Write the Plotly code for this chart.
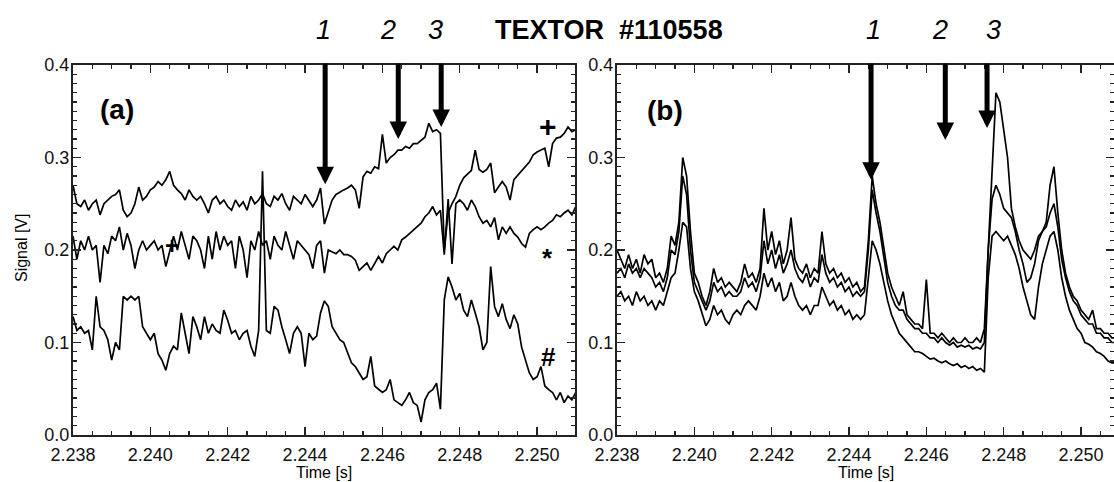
import numpy as np
import plotly.graph_objects as go

# ---------------- data ----------------
# sample times (ms after 2.238 s)
time_a_ms = np.round(np.arange(0, 13.05, 0.1), 1)
time_b_ms = np.round(np.arange(0, 12.95, 0.1), 1)
T0 = 2.238

# panel (a): three signals, marked '+', '*', '#'
sig_plus = [
    0.270, 0.250, 0.247, 0.254, 0.243, 0.250, 0.254, 0.238, 0.250, 0.254,
    0.258, 0.260, 0.265, 0.243, 0.236, 0.240, 0.250, 0.268, 0.254, 0.258,
    0.265, 0.268, 0.274, 0.270, 0.276, 0.285, 0.270, 0.265, 0.261, 0.254,
    0.265, 0.258, 0.254, 0.258, 0.250, 0.240, 0.254, 0.258, 0.250, 0.254,
    0.247, 0.243, 0.254, 0.247, 0.252, 0.243, 0.258, 0.250, 0.254, 0.261,
    0.250, 0.247, 0.258, 0.254, 0.261, 0.250, 0.243, 0.258, 0.254, 0.250,
    0.260, 0.254, 0.247, 0.254, 0.267, 0.228, 0.240, 0.254, 0.260, 0.263,
    0.265, 0.267, 0.270, 0.265, 0.245, 0.279, 0.285, 0.283, 0.290, 0.288,
    0.325, 0.294, 0.300, 0.303, 0.308, 0.308, 0.312, 0.310, 0.315, 0.315,
    0.319, 0.322, 0.337, 0.328, 0.330, 0.326, 0.200, 0.240, 0.250, 0.258,
    0.270, 0.278, 0.282, 0.286, 0.308, 0.287, 0.284, 0.287, 0.294, 0.262,
    0.268, 0.274, 0.268, 0.254, 0.276, 0.281, 0.285, 0.290, 0.295, 0.303,
    0.306, 0.308, 0.310, 0.290, 0.315, 0.321, 0.322, 0.326, 0.333, 0.328,
    0.330,
]
sig_star = [
    0.215, 0.190, 0.210, 0.200, 0.215, 0.200, 0.205, 0.165, 0.205, 0.196,
    0.215, 0.210, 0.225, 0.200, 0.218, 0.205, 0.180, 0.200, 0.210, 0.200,
    0.205, 0.210, 0.200, 0.205, 0.182, 0.200, 0.215, 0.200, 0.220, 0.205,
    0.190, 0.215, 0.210, 0.200, 0.180, 0.215, 0.190, 0.220, 0.200, 0.215,
    0.205, 0.210, 0.180, 0.215, 0.200, 0.170, 0.210, 0.200, 0.220, 0.205,
    0.210, 0.190, 0.215, 0.205, 0.200, 0.220, 0.205, 0.190, 0.210, 0.205,
    0.200, 0.195, 0.180, 0.205, 0.210, 0.175, 0.200, 0.198, 0.196, 0.200,
    0.195, 0.195, 0.193, 0.189, 0.178, 0.182, 0.186, 0.178, 0.186, 0.193,
    0.186, 0.196, 0.200, 0.204, 0.200, 0.211, 0.214, 0.218, 0.222, 0.225,
    0.229, 0.236, 0.240, 0.247, 0.238, 0.243, 0.195, 0.255, 0.185, 0.250,
    0.254, 0.250, 0.243, 0.254, 0.247, 0.236, 0.229, 0.232, 0.225, 0.235,
    0.211, 0.225, 0.218, 0.225, 0.218, 0.214, 0.207, 0.203, 0.218, 0.222,
    0.225, 0.222, 0.225, 0.229, 0.232, 0.238, 0.236, 0.240, 0.243, 0.238,
    0.247,
]
sig_hash = [
    0.128, 0.113, 0.117, 0.110, 0.113, 0.092, 0.150, 0.117, 0.113, 0.103,
    0.081, 0.100, 0.092, 0.150, 0.146, 0.150, 0.146, 0.150, 0.117, 0.110,
    0.103, 0.110, 0.088, 0.081, 0.070, 0.088, 0.096, 0.092, 0.132, 0.110,
    0.088, 0.128, 0.117, 0.103, 0.128, 0.110, 0.120, 0.113, 0.110, 0.135,
    0.124, 0.110, 0.113, 0.103, 0.110, 0.113, 0.096, 0.085, 0.113, 0.285,
    0.113, 0.110, 0.139, 0.135, 0.117, 0.103, 0.088, 0.110, 0.117, 0.110,
    0.074, 0.110, 0.103, 0.107, 0.132, 0.145, 0.139, 0.117, 0.110, 0.103,
    0.100, 0.088, 0.078, 0.074, 0.067, 0.060, 0.063, 0.085, 0.053, 0.049,
    0.046, 0.049, 0.060, 0.038, 0.035, 0.032, 0.038, 0.046, 0.035, 0.032,
    0.014, 0.038, 0.046, 0.049, 0.056, 0.028, 0.146, 0.171, 0.160, 0.146,
    0.153, 0.135, 0.128, 0.146, 0.132, 0.117, 0.092, 0.100, 0.182, 0.139,
    0.128, 0.142, 0.125, 0.115, 0.130, 0.120, 0.095, 0.080, 0.067, 0.060,
    0.063, 0.074, 0.053, 0.049, 0.046, 0.038, 0.046, 0.035, 0.042, 0.038,
    0.046,
]

# panel (b): three signals
sig_b1 = [
    0.200, 0.190, 0.180, 0.195, 0.180, 0.190, 0.175, 0.195, 0.185, 0.190,
    0.170, 0.175, 0.165, 0.180, 0.215, 0.205, 0.230, 0.300, 0.280, 0.220,
    0.175, 0.165, 0.150, 0.140, 0.155, 0.180, 0.165, 0.170, 0.160, 0.165,
    0.160, 0.155, 0.165, 0.185, 0.170, 0.175, 0.165, 0.180, 0.245, 0.200,
    0.220, 0.195, 0.210, 0.185, 0.200, 0.235, 0.190, 0.180, 0.175, 0.185,
    0.170, 0.180, 0.175, 0.220, 0.185, 0.175, 0.180, 0.170, 0.175, 0.165,
    0.170, 0.160, 0.165, 0.155, 0.160, 0.210, 0.280, 0.250, 0.230, 0.200,
    0.175, 0.160, 0.150, 0.140, 0.155, 0.130, 0.125, 0.120, 0.120, 0.115,
    0.168, 0.110, 0.110, 0.105, 0.110, 0.105, 0.100, 0.105, 0.100, 0.100,
    0.105, 0.100, 0.100, 0.105, 0.100, 0.115, 0.200, 0.280, 0.370, 0.360,
    0.330, 0.300, 0.245, 0.225, 0.210, 0.200, 0.195, 0.190, 0.200, 0.215,
    0.220, 0.230, 0.270, 0.290, 0.240, 0.200, 0.175, 0.160, 0.150, 0.145,
    0.135, 0.130, 0.125, 0.135, 0.115, 0.115, 0.110, 0.110, 0.105, 0.105,
]
sig_b2 = [
    0.175, 0.180, 0.170, 0.185, 0.175, 0.180, 0.170, 0.180, 0.175, 0.170,
    0.160, 0.165, 0.155, 0.170, 0.200, 0.195, 0.220, 0.280, 0.260, 0.200,
    0.165, 0.155, 0.145, 0.135, 0.145, 0.165, 0.155, 0.160, 0.150, 0.155,
    0.150, 0.150, 0.155, 0.170, 0.160, 0.165, 0.155, 0.170, 0.210, 0.185,
    0.200, 0.180, 0.195, 0.175, 0.185, 0.200, 0.180, 0.170, 0.165, 0.175,
    0.160, 0.170, 0.165, 0.195, 0.175, 0.165, 0.170, 0.160, 0.165, 0.155,
    0.160, 0.150, 0.155, 0.150, 0.155, 0.200, 0.265, 0.240, 0.220, 0.190,
    0.165, 0.150, 0.140, 0.135, 0.135, 0.125, 0.120, 0.115, 0.115, 0.110,
    0.110, 0.105, 0.105, 0.100, 0.105, 0.100, 0.097, 0.100, 0.095, 0.097,
    0.095, 0.097, 0.093, 0.095, 0.093, 0.100, 0.200, 0.255, 0.270, 0.260,
    0.245, 0.240, 0.235, 0.220, 0.200, 0.185, 0.165, 0.170, 0.185, 0.210,
    0.220, 0.225, 0.240, 0.250, 0.225, 0.190, 0.170, 0.155, 0.145, 0.140,
    0.130, 0.125, 0.120, 0.120, 0.110, 0.110, 0.105, 0.105, 0.100, 0.100,
]
sig_b3 = [
    0.150, 0.155, 0.145, 0.150, 0.140, 0.155, 0.145, 0.150, 0.140, 0.145,
    0.135, 0.145, 0.140, 0.155, 0.170, 0.175, 0.200, 0.230, 0.225, 0.180,
    0.155, 0.145, 0.130, 0.118, 0.125, 0.140, 0.130, 0.135, 0.125, 0.120,
    0.130, 0.135, 0.130, 0.140, 0.145, 0.140, 0.135, 0.150, 0.175, 0.160,
    0.170, 0.155, 0.165, 0.145, 0.150, 0.165, 0.150, 0.140, 0.135, 0.140,
    0.130, 0.140, 0.140, 0.160, 0.150, 0.140, 0.145, 0.135, 0.140, 0.130,
    0.135, 0.125, 0.130, 0.125, 0.130, 0.170, 0.210, 0.200, 0.185, 0.165,
    0.145, 0.130, 0.120, 0.110, 0.105, 0.100, 0.095, 0.090, 0.090, 0.088,
    0.085, 0.082, 0.083, 0.080, 0.078, 0.080, 0.077, 0.075, 0.077, 0.073,
    0.075, 0.072, 0.074, 0.070, 0.072, 0.068, 0.170, 0.215, 0.220, 0.215,
    0.210, 0.215, 0.205, 0.195, 0.180, 0.160, 0.145, 0.130, 0.125, 0.160,
    0.185, 0.200, 0.215, 0.220, 0.200, 0.170, 0.150, 0.135, 0.125, 0.115,
    0.110, 0.100, 0.098, 0.095, 0.090, 0.088, 0.085, 0.080, 0.078, 0.078,
]

# event arrows (time of event, signal level at arrow tip)
arrow_times_a = [2.24452, 2.24641, 2.24752]
arrow_tips_a = [0.271, 0.320, 0.333]
arrow_times_b = [2.24457, 2.24649, 2.24757]
arrow_tips_b = [0.276, 0.319, 0.332]
arrow_top = 0.403

time_a = T0 + time_a_ms / 1000.0
time_b = T0 + time_b_ms / 1000.0

# ---------------- figure ----------------
W, H = 1114, 482
fig = go.Figure()
line = dict(color="black", width=1.7)
for s in (sig_plus, sig_star, sig_hash):
    fig.add_trace(go.Scatter(x=time_a, y=s, mode="lines", line=line,
                             xaxis="x", yaxis="y", showlegend=False, hoverinfo="skip"))
for s in (sig_b1, sig_b2, sig_b3):
    fig.add_trace(go.Scatter(x=time_b, y=s, mode="lines", line=line,
                             xaxis="x2", yaxis="y2", showlegend=False, hoverinfo="skip"))

FONT = "Liberation Sans, Arial, Helvetica, sans-serif"
axcol = "#222"
common = dict(showline=True, linewidth=2, linecolor=axcol, mirror="ticks",
              ticks="inside", ticklen=8, tickwidth=1.4, tickcolor=axcol,
              showgrid=False, zeroline=False, automargin=False,
              tickfont=dict(family=FONT, size=18, color="#111"))
xcommon = dict(common, tick0=2.238, dtick=0.002, tickformat=".3f",
               ticklabelstandoff=2,
               minor=dict(ticks="inside", ticklen=4, tickwidth=1.2,
                          tickcolor=axcol, dtick=0.0005, showgrid=False))
ycommon = dict(common, range=[0, 0.4], tick0=0, dtick=0.1, tickformat=".1f",
               ticklabelstandoff=-2,
               minor=dict(ticks="inside", ticklen=4, tickwidth=1.2,
                          tickcolor=axcol, dtick=0.01, showgrid=False))

ydom = [(H - 435) / H, (H - 65) / H]
fig.update_layout(
    template="none",
    width=W, height=H, autosize=False,
    margin=dict(l=0, r=0, t=0, b=0, pad=0, autoexpand=False),
    paper_bgcolor="white", plot_bgcolor="white",
    xaxis=dict(xcommon, domain=[73 / W, 575 / W], range=[2.238, 2.25098], anchor="y"),
    yaxis=dict(ycommon, domain=ydom, anchor="x"),
    xaxis2=dict(xcommon, domain=[617 / W, 1.0], range=[2.238, 2.250853], anchor="y2"),
    yaxis2=dict(ycommon, domain=ydom, anchor="x2"),
)

ann = []
def txt(x, y, s, size, bold=False, italic=False, angle=0):
    if bold:
        s = "<b>" + s + "</b>"
    if italic:
        s = "<i>" + s + "</i>"
    ann.append(dict(x=x / W, y=(H - y) / H, xref="paper", yref="paper", text=s,
                    showarrow=False, xanchor="center", yanchor="middle", textangle=angle,
                    font=dict(family=FONT, size=size, color="black")))

# header
txt(323, 30, "1", 27, italic=True)
txt(388, 30, "2", 27, italic=True)
txt(435, 30, "3", 27, italic=True)
txt(609, 30, "TEXTOR\u00a0 #110558", 27, bold=True)
txt(873, 30, "1", 27, italic=True)
txt(940, 30, "2", 27, italic=True)
txt(993, 30, "3", 27, italic=True)
# panel labels
txt(117, 110, "(a)", 28, bold=True)
txt(665, 111, "(b)", 28, bold=True)
# curve markers
txt(548, 127, "+", 30, bold=True)
txt(172, 246, "+", 24, bold=True)
txt(547, 258, "*", 26, bold=True)
txt(548, 357, "#", 26, bold=True)
# axis titles
txt(22, 248, "Signal [V]", 16, angle=-90)
txt(324, 472, "Time [s]", 16)
txt(866, 472, "Time [s]", 16)

for xs, ys, xr, yr in ((arrow_times_a, arrow_tips_a, "x", "y"),
                       (arrow_times_b, arrow_tips_b, "x2", "y2")):
    for t, v in zip(xs, ys):
        ann.append(dict(x=t, y=v, xref=xr, yref=yr, ax=t, ay=arrow_top,
                        axref=xr, ayref=yr, text="", showarrow=True,
                        arrowhead=2, arrowsize=0.7, arrowwidth=5,
                        arrowcolor="black", standoff=0))

fig.update_layout(annotations=ann)
fig.write_html(
    "out.html",
    config={"displayModeBar": False, "staticPlot": True},
    post_script="document.body.style.margin='0px';"
                "document.documentElement.style.overflow='hidden';",
)
